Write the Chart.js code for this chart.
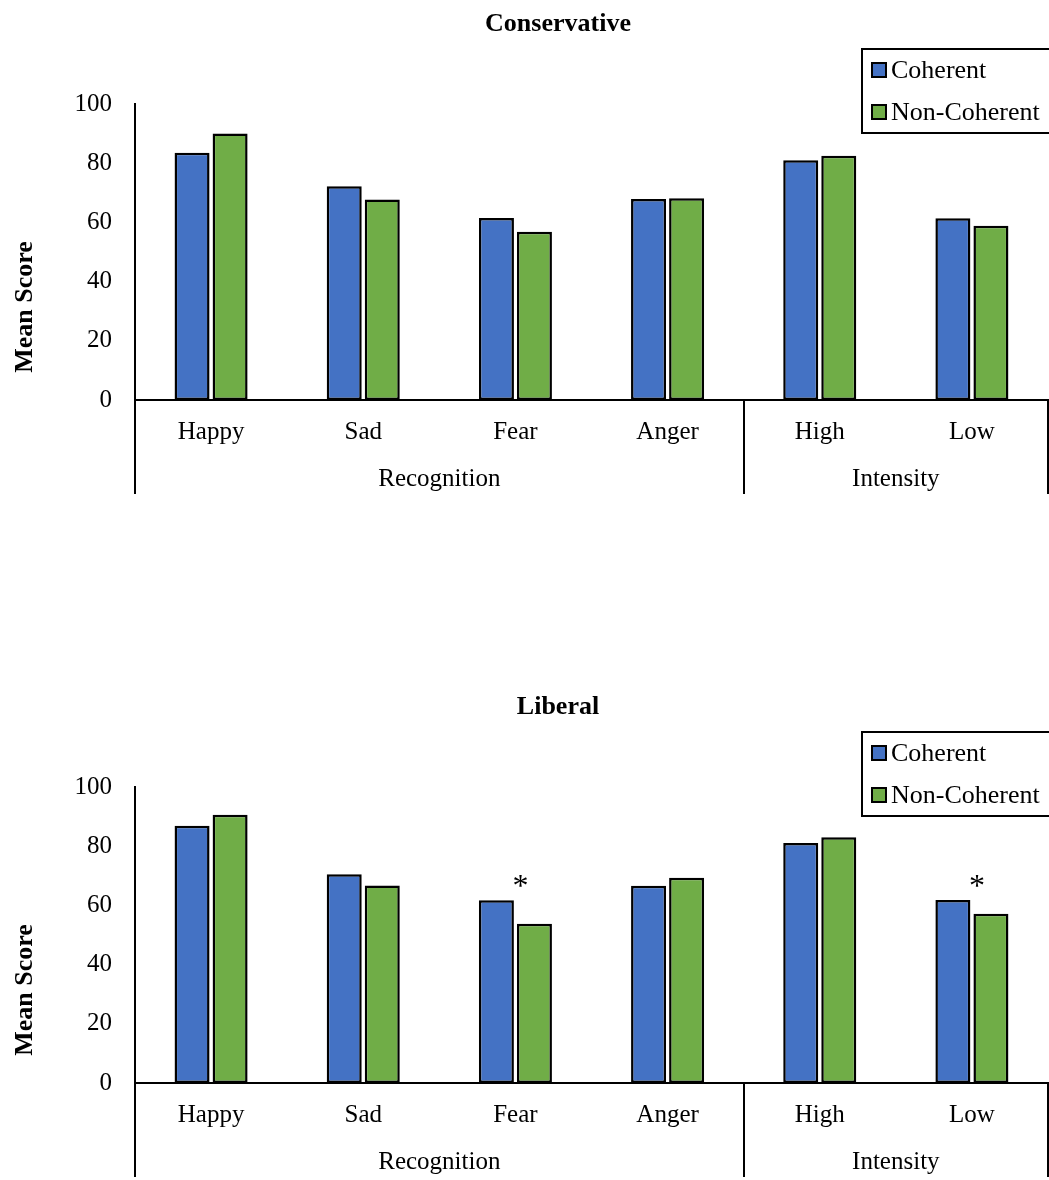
<!DOCTYPE html>
<html lang="en">
<head>
<meta charset="UTF-8">
<title>Mean Score by Coherence</title>
<style>
    html, body {
        margin: 0;
        padding: 0;
        background: #fff;
        width: 1049px;
        height: 1180px;
        overflow: hidden;
    }
    .panel {
        position: absolute;
        left: 0;
        width: 1049px;
        height: 590px;
    }
    #panelTop { top: 0; }
    #panelBottom { top: 683px; }
</style>
</head>
<body>
<div class="panel" id="panelTop"><canvas id="conservativeChart" width="1049" height="590"></canvas></div>
<div class="panel" id="panelBottom"><canvas id="liberalChart" width="1049" height="590"></canvas></div>

<script src="https://cdn.jsdelivr.net/npm/chart.js"></script>
<script>
// data
const categories = ['Happy', 'Sad', 'Fear', 'Anger', 'High', 'Low'];
const groupNames = ['Recognition', 'Intensity'];
const groupSizes = [4, 2];
const seriesNames = ['Coherent', 'Non-Coherent'];
const seriesColors = ['#4472C4', '#70AD47'];

const conservativeCoherent = [83.5, 72.2, 61.5, 67.9, 81.0, 61.4];
const conservativeNonCoherent = [90.0, 67.7, 56.8, 68.2, 82.5, 58.9];
const conservativeStars = ['', '', '', '', '', ''];

const liberalCoherent = [86.9, 70.5, 61.7, 66.6, 81.1, 61.8];
const liberalNonCoherent = [90.6, 66.7, 53.8, 69.3, 83.0, 57.2];
const liberalStars = ['', '', '*', '', '', '*'];

const yMin = 0, yMax = 100, yStep = 20;

const serif = '"Liberation Serif", "Times New Roman", serif';
const GROUP_ROW = 94; // height of the two-row category axis

// title, y title, legend box, group row and asterisks
const decorations = {
    id: 'decorations',
    afterDraw(chart, args, opts) {
        const ctx = chart.ctx;
        const area = chart.chartArea;
        const xs = chart.scales.x;
        const ys = chart.scales.y;
        const rowBottom = area.bottom + GROUP_ROW;

        ctx.save();
        ctx.strokeStyle = '#000';
        ctx.fillStyle = '#000';
        ctx.lineWidth = 2;

        // group separators below the axis
        const edges = [-0.5];
        groupSizes.forEach(n => edges.push(edges[edges.length - 1] + n));
        edges.forEach(e => {
            const px = Math.min(Math.round(xs.getPixelForValue(e)), chart.width - 1);
            ctx.beginPath();
            ctx.moveTo(px, area.bottom);
            ctx.lineTo(px, rowBottom);
            ctx.stroke();
        });

        // group labels
        ctx.font = '25px ' + serif;
        ctx.textAlign = 'center';
        ctx.textBaseline = 'middle';
        groupNames.forEach((g, i) => {
            const mid = (xs.getPixelForValue(edges[i]) + xs.getPixelForValue(edges[i + 1])) / 2;
            ctx.fillText(g, mid, area.bottom + 79);
        });

        // significance marks
        ctx.font = '32px ' + serif;
        ctx.textBaseline = 'alphabetic';
        opts.stars.forEach((s, i) => {
            if (!s) return;
            const top = Math.max(opts.a[i], opts.b[i]);
            ctx.fillText(s, xs.getPixelForValue(i) + 5, ys.getPixelForValue(top) - 4);
        });

        // chart title
        ctx.font = 'bold 26px ' + serif;
        ctx.fillText(opts.title, 558, 31);

        // y axis title
        ctx.save();
        ctx.translate(25, 307);
        ctx.rotate(-Math.PI / 2);
        ctx.textBaseline = 'middle';
        ctx.fillText('Mean Score', 0, 0);
        ctx.restore();

        // legend
        ctx.lineWidth = 2;
        ctx.strokeRect(862, 49, 200, 84);
        ctx.font = '26px ' + serif;
        ctx.textAlign = 'left';
        ctx.textBaseline = 'middle';
        chart.data.datasets.forEach((ds, i) => {
            const cy = 70 + i * 42;
            ctx.fillStyle = ds.backgroundColor;
            ctx.fillRect(872, cy - 7, 14, 14);
            ctx.strokeRect(872, cy - 7, 14, 14);
            ctx.fillStyle = '#000';
            ctx.fillText(ds.label, 891, cy + 1);
        });

        ctx.restore();
    }
};

function makeChart(id, title, a, b, stars) {
    return new Chart(document.getElementById(id), {
        type: 'bar',
        data: {
            labels: categories,
            datasets: [a, b].map((vals, i) => ({
                label: seriesNames[i],
                data: vals,
                backgroundColor: seriesColors[i],
                borderColor: '#000',
                borderWidth: 2.5,
                borderSkipped: false,
                categoryPercentage: 0.5,
                barPercentage: 0.92
            }))
        },
        options: {
            responsive: false,
            animation: false,
            devicePixelRatio: 1,
            layout: {
                padding: { top: 104, right: 1, bottom: 590 - 400 - GROUP_ROW, left: 0 }
            },
            plugins: {
                legend: { display: false },
                tooltip: { enabled: false },
                title: { display: false },
                decorations: { title: title, a: a, b: b, stars: stars }
            },
            scales: {
                x: {
                    grid: { display: false, drawTicks: false },
                    border: { display: true, color: '#000', width: 2 },
                    ticks: {
                        color: '#000',
                        font: { family: serif, size: 25 },
                        padding: 17,
                        maxRotation: 0,
                        autoSkip: false
                    },
                    afterFit(scale) { scale.height = GROUP_ROW; }
                },
                y: {
                    min: yMin,
                    max: yMax,
                    grid: { display: false, drawTicks: false },
                    border: { display: true, color: '#000', width: 2 },
                    ticks: {
                        stepSize: yStep,
                        color: '#000',
                        font: { family: serif, size: 25 },
                        padding: 23
                    },
                    afterFit(scale) { scale.width = 135; }
                }
            }
        },
        plugins: [decorations]
    });
}

makeChart('conservativeChart', 'Conservative', conservativeCoherent, conservativeNonCoherent, conservativeStars);
makeChart('liberalChart', 'Liberal', liberalCoherent, liberalNonCoherent, liberalStars);
</script>
</body>
</html>
